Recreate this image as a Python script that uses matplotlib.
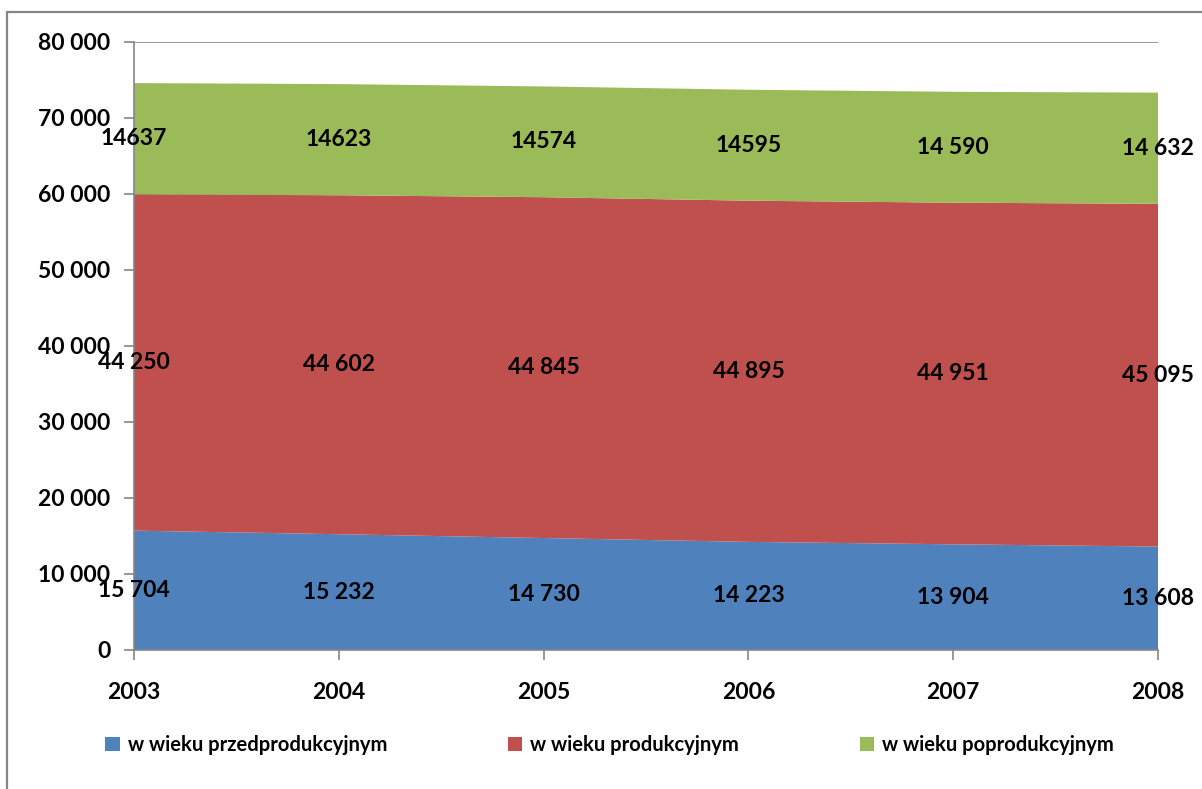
import matplotlib
matplotlib.use('Agg')
import matplotlib.pyplot as plt
from matplotlib.patches import Rectangle
from matplotlib.ticker import FuncFormatter

# ----------------------------
# data
# ----------------------------
years = [2003, 2004, 2005, 2006, 2007, 2008]
przed = [15704, 15232, 14730, 14223, 13904, 13608]
prod = [44250, 44602, 44845, 44895, 44951, 45095]
poprod = [14637, 14623, 14574, 14595, 14590, 14632]

przed_labels = ["15 704", "15 232", "14 730", "14 223", "13 904", "13 608"]
prod_labels = ["44 250", "44 602", "44 845", "44 895", "44 951", "45 095"]
poprod_labels = ["14637", "14623", "14574", "14595", "14 590", "14 632"]

series_names = ["w wieku przedprodukcyjnym", "w wieku produkcyjnym", "w wieku poprodukcyjnym"]
colors = ["#4F81BD", "#C0504D", "#9BBB59"]
# ----------------------------

plt.rcParams['font.family'] = ['Lato', 'DejaVu Sans']

fig = plt.figure(figsize=(12.02, 7.89), dpi=100)
ax = fig.add_axes([0.1115, 0.1762, 0.8519, 0.7706])

# outer chart border (clipped at right and bottom like the source)
fig.patches.append(Rectangle((7 / 1202, -0.05), 1.1, 1 - 12 / 789 + 0.05,
                             transform=fig.transFigure, fill=False,
                             edgecolor="#868686", linewidth=1.6, zorder=0))

ax.stackplot(years, przed, prod, poprod, colors=colors, labels=series_names, zorder=2)

ax.set_xlim(2003, 2008)
ax.set_ylim(0, 80000)
ax.set_yticks(range(0, 80001, 10000))
ax.yaxis.set_major_formatter(FuncFormatter(lambda v, p: f"{int(v):,}".replace(",", " ")))
ax.set_xticks(years)
ax.grid(axis='y', color="#868686", linewidth=1.2, zorder=1)
ax.set_axisbelow(True)

for s in ['top', 'right']:
    ax.spines[s].set_visible(False)
for s in ['left', 'bottom']:
    ax.spines[s].set_color("#868686")
    ax.spines[s].set_linewidth(1.2)

ax.tick_params(axis='y', length=7, width=1.2, color="#868686", pad=10, labelsize=16.5)
ax.tick_params(axis='x', length=7, width=1.2, color="#868686", pad=16, labelsize=16.5)
for t in ax.get_xticklabels() + ax.get_yticklabels():
    t.set_fontweight('bold')

# data labels at the middle of each band
base = [0] * len(years)
for vals, labs in [(przed, przed_labels), (prod, prod_labels), (poprod, poprod_labels)]:
    for i, x in enumerate(years):
        ax.text(x, base[i] + vals[i] / 2, labs[i], ha='center', va='center',
                fontsize=16.5, fontweight='bold', zorder=5, clip_on=False)
    base = [b + v for b, v in zip(base, vals)]

fig.legend(loc='center', bbox_to_anchor=(0.507, 1 - 745 / 789), ncol=3, frameon=False,
           handlelength=0.7, handleheight=0.7, handletextpad=0.4,
           columnspacing=6.0, prop={'weight': 'bold', 'size': 14.5})

plt.savefig("out.png", dpi=100)
